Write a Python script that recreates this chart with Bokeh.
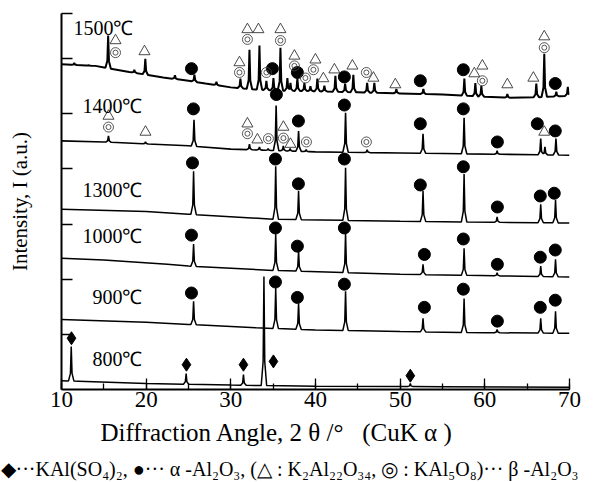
import numpy as np
from bokeh.plotting import figure
from bokeh.models import Label, Title, FixedTicker, SingleIntervalTicker, CustomJSTickFormatter
from bokeh.embed import file_html
from bokeh.resources import INLINE

SERIF = "Liberation Serif"

# ---------------- data (2θ in degrees, intensity in arbitrary offset units) ----------------
temps = ["800℃", "900℃", "1000℃", "1300℃", "1400℃", "1500℃"]
temp_label_x = [19.56, 19.56, 19.56, 19.56, 19.56, 18.5]
temp_label_y = [0.55, 1.67, 2.78, 3.62, 5.15, 6.55]

# 800 ℃
b800_x = [10.0, 12.0, 20.0, 30.0, 40.0, 55.0, 70.0]
b800_y = [0.16, 0.15, 0.11, 0.08, 0.06, 0.05, 0.04]
p800_x = [11.15, 24.72, 31.49, 33.91, 51.2]
p800_y = [0.78, 0.29, 0.27, 2.05, 0.11]

# 900 ℃
b900_x = [10.0, 20.0, 25.0, 33.0, 40.0, 50.0, 60.0, 70.0]
b900_y = [1.27, 1.22, 1.18, 1.12, 1.08, 1.05, 1.03, 1.02]
p900_x = [25.6, 35.3, 38.0, 43.55, 52.7, 57.55, 61.45, 66.6, 68.35]
p900_y = [1.60, 1.84, 1.56, 1.78, 1.29, 1.65, 1.09, 1.29, 1.42]

# 1000 ℃
b1000_x = [10.0, 15.0, 22.5, 25.0, 35.0, 50.0, 70.0]
b1000_y = [2.38, 2.35, 2.27, 2.24, 2.16, 2.09, 2.04]
p1000_x = [25.6, 35.3, 38.0, 43.55, 52.7, 57.55, 61.45, 66.6, 68.35]
p1000_y = [2.64, 2.82, 2.51, 2.84, 2.27, 2.56, 2.12, 2.24, 2.36]

# 1300 ℃
b1300_x = [10.0, 20.0, 25.0, 35.0, 50.0, 70.0]
b1300_y = [3.27, 3.23, 3.18, 3.09, 3.05, 3.02]
p1300_x = [25.6, 35.3, 38.0, 43.55, 52.7, 57.55, 61.45, 66.6, 68.35]
p1300_y = [3.96, 4.05, 3.60, 4.02, 3.60, 3.91, 3.13, 3.36, 3.44]

# 1400 ℃
b1400_x = [10.0, 15.0, 25.0, 30.0, 40.0, 50.0, 70.0]
b1400_y = [4.51, 4.49, 4.42, 4.36, 4.31, 4.29, 4.25]
p1400_x = [15.55, 19.92, 25.65, 32.2, 33.38, 34.4, 35.35, 36.2, 37.0, 38.0, 38.9,
           43.55, 46.1, 52.7, 57.55, 61.45, 66.6, 67.1, 68.4]
p1400_y = [4.60, 4.49, 4.89, 4.45, 4.40, 4.37, 5.15, 4.42, 4.37, 4.69, 4.35,
           5.02, 4.35, 4.64, 4.93, 4.33, 4.55, 4.40, 4.55]

# 1500 ℃
b1500_x = [10.0, 14.0, 18.0, 22.0, 25.0, 27.0, 30.0, 33.0, 36.0, 40.0, 45.0,
           50.0, 55.0, 60.0, 63.0, 66.0, 69.0, 70.0]
b1500_y = [5.90, 5.87, 5.76, 5.66, 5.60, 5.55, 5.48, 5.44, 5.42, 5.41, 5.39,
           5.37, 5.35, 5.31, 5.29, 5.30, 5.32, 5.33]
p1500_x = [11.5, 13.2, 15.51, 18.6, 19.9, 23.4, 25.7, 28.3, 31.13, 32.2, 33.38, 34.2,
           35.03, 35.86, 36.68, 37.04, 37.86, 38.69, 39.4, 40.22, 41.05, 42.35,
           43.5, 44.47, 46.1, 46.95, 49.55, 52.74, 57.58, 58.88, 59.59, 62.66,
           66.08, 67.02, 68.44, 69.8]
p1500_y = [5.92, 5.88, 6.42, 5.80, 6.00, 5.70, 5.71, 5.58, 5.64, 6.16, 6.24, 5.60,
           5.65, 6.20, 5.65, 5.56, 5.64, 5.56, 5.50, 5.64, 5.51, 5.69,
           5.55, 5.71, 5.56, 5.56, 5.45, 5.45, 5.64, 5.56, 5.51, 5.36,
           5.55, 6.09, 5.40, 5.49]

# phase markers: ◆ KAl(SO4)2
dia_x = [11.18, 24.76, 31.49, 35.03, 51.2]
dia_y = [0.93, 0.45, 0.45, 0.51, 0.25]
# ● α-Al2O3
dot_x = [25.35, 35.27, 37.86, 43.41, 52.86, 57.46, 61.48, 66.55, 68.32,
         25.35, 35.27, 37.86, 43.41, 52.86, 57.46, 61.48, 66.55, 68.32,
         25.47, 35.27, 37.98, 43.41, 52.38, 57.46, 61.48, 66.55, 68.20,
         25.58, 35.38, 37.98, 43.41, 52.38, 57.46, 61.48, 66.20, 68.32,
         25.35, 34.91, 37.86, 43.41, 52.38, 57.46, 68.32]
dot_y = [1.75, 1.95, 1.67, 1.91, 1.49, 1.82, 1.24, 1.49, 1.62,
         2.80, 2.93, 2.60, 2.93, 2.45, 2.73, 2.27, 2.40, 2.53,
         4.11, 4.18, 3.73, 4.18, 3.71, 4.04, 3.31, 3.51, 3.56,
         5.09, 5.35, 4.87, 5.16, 4.82, 5.09, 4.49, 4.82, 4.69,
         5.82, 5.82, 5.75, 5.67, 5.60, 5.80, 5.55]
# △ K2Al22O34
tri_x = [15.55, 19.92, 31.96, 33.14, 36.21, 37.04, 67.02,
         16.38, 19.80, 31.02, 31.96, 33.26, 35.86, 37.51, 39.99, 40.93, 42.23,
         44.36, 46.84, 49.43, 58.76, 59.71, 62.66, 65.73, 67.02]
tri_y = [4.96, 4.67, 4.82, 4.53, 4.76, 4.45, 4.67,
         6.33, 6.13, 5.93, 6.53, 6.53, 6.53, 6.05, 5.98, 5.64, 5.80,
         5.87, 5.65, 5.53, 5.73, 5.87, 5.53, 5.65, 6.40]
# ◎ KAl5O8
dbl_x = [15.55, 31.96, 34.44, 36.21, 38.93, 46.01,
         16.38, 31.02, 31.96, 34.20, 35.86, 37.51, 38.81, 39.75, 46.01, 59.71, 67.02]
dbl_y = [4.76, 4.64, 4.55, 4.56, 4.49, 4.49,
         6.11, 5.75, 6.35, 5.75, 6.33, 5.87, 5.65, 5.80, 5.75, 5.60, 6.20]

y_ticks = [1, 2, 3, 4, 5, 6, 6.82]

x_title = "Diffraction Angle, 2 θ /°\u00a0\u00a0\u00a0(CuK α )"
y_title = "Intensity, I (a.u.)"
legend_text = "◆···KAl(SO₄)₂, ●··· α -Al₂O₃, (△ : K₂Al₂₂O₃₄, ◎ : KAl₅O₈)··· β -Al₂O₃"


def pattern(bx, by, px, py, hw=0.32):
    """Polyline through baseline nodes and read peak apexes."""
    xs = list(bx)
    for c in px:
        xs += [c - hw, c - 0.3 * hw, c, c + 0.3 * hw, c + hw]
    xs = np.array(sorted(set([x for x in xs if 10.0 <= x <= 70.0])))
    base = np.interp(xs, bx, by)
    add = np.zeros_like(xs)
    for c, h in zip(px, py):
        b = np.interp(c, bx, by)
        hh = h - b
        shape = np.interp(xs, [c - hw, c - 0.3 * hw, c, c + 0.3 * hw, c + hw],
                          [0, 0.22 * hh, hh, 0.22 * hh, 0], left=0, right=0)
        add = np.maximum(add, shape)
    return xs, base + add


p = figure(width=603, height=482, x_range=(10, 70), y_range=(0, 6.82),
           output_backend="svg", toolbar_location=None,
           min_border_left=61, min_border_right=34, min_border_top=13, min_border_bottom=20)
p.outline_line_color = None
p.grid.visible = False
p.background_fill_color = "white"
p.border_fill_color = "white"

series = [(b800_x, b800_y, p800_x, p800_y, 1.5),
          (b900_x, b900_y, p900_x, p900_y, 1.5),
          (b1000_x, b1000_y, p1000_x, p1000_y, 1.5),
          (b1300_x, b1300_y, p1300_x, p1300_y, 1.5),
          (b1400_x, b1400_y, p1400_x, p1400_y, 1.6),
          (b1500_x, b1500_y, p1500_x, p1500_y, 2.0)]
for bx, by, px, py, lw in series:
    xs, ys = pattern(bx, by, px, py)
    p.line(xs, ys, line_color="black", line_width=lw)

p.scatter(dia_x, dia_y, marker="diamond", size=13, fill_color="black", line_color="black")
p.scatter(dot_x, dot_y, marker="circle", size=12, fill_color="black", line_color="black")
p.scatter(tri_x, tri_y, marker="triangle", size=11, fill_color="white", fill_alpha=0,
          line_color="#333333", line_width=0.9)
p.scatter(dbl_x, dbl_y, marker="circle", size=10, fill_alpha=0, line_color="#444444", line_width=0.9)
p.scatter(dbl_x, dbl_y, marker="circle", size=5, fill_alpha=0, line_color="#444444", line_width=0.9)

for t, lx, ly in zip(temps, temp_label_x, temp_label_y):
    p.add_layout(Label(x=lx, y=ly, text=t, text_align="right", text_baseline="middle",
                       text_font=SERIF, text_font_size="20px", text_color="black"))

# axes
xa = p.xaxis[0]
xa.ticker = SingleIntervalTicker(interval=10, num_minor_ticks=2)
xa.major_tick_in = 11
xa.major_tick_out = 0
xa.minor_tick_in = 6
xa.minor_tick_out = 0
xa.axis_line_width = 2
xa.major_tick_line_width = 1.3
xa.minor_tick_line_width = 1.3
xa.major_label_text_font = SERIF
xa.major_label_text_font_size = "23px"
xa.major_label_text_color = "black"
xa.major_label_standoff = 2

ya = p.yaxis[0]
ya.ticker = FixedTicker(ticks=y_ticks)
ya.formatter = CustomJSTickFormatter(code="return ''")
ya.major_tick_in = 11
ya.major_tick_out = 0
ya.minor_tick_line_color = None
ya.axis_line_width = 2
ya.major_tick_line_width = 1.3
ya.major_label_standoff = 0
ya.axis_label = y_title
ya.axis_label_standoff = 30
ya.axis_label_text_font = SERIF
ya.axis_label_text_font_size = "21px"
ya.axis_label_text_font_style = "normal"
ya.axis_label_text_color = "black"

# x-axis title and the phase legend, placed in the panel below
p.add_layout(Title(text=x_title, align="left", offset=39, standoff=14,
                   text_font=SERIF, text_font_size="25px", text_font_style="normal",
                   text_color="black"), "below")
p.add_layout(Title(text=legend_text, align="left", offset=-61, standoff=6,
                   text_font=SERIF, text_font_size="20px", text_font_style="normal",
                   text_color="black"), "below")

open("out.html", "w").write(file_html(p, INLINE))
